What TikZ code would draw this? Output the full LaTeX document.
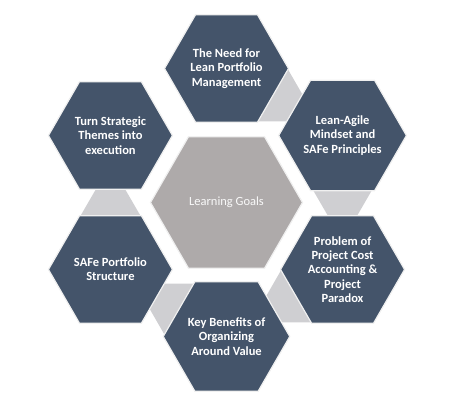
\documentclass[tikz,border=0pt]{standalone}
\usepackage{fontspec}
\setmainfont{Carlito}
\usetikzlibrary{shapes.geometric}

\definecolor{hexblue}{HTML}{44546A}
\definecolor{hexgray}{HTML}{AEAAAA}
\definecolor{linkgray}{HTML}{CFCFD2}

\tikzset{
  goal/.style={regular polygon, regular polygon sides=6, minimum size=124pt,
    inner sep=0pt, outer sep=0pt, fill=hexblue, draw=white!88!gray, line width=1.2pt,
    text=white, align=center, font=\bfseries\fontsize{12.5}{14.3}\selectfont},
  hub/.style={goal, minimum size=152pt, fill=hexgray, text=white!93!hexgray,
    font=\fontsize{12.5}{14.3}\selectfont},
  link/.style={fill=linkgray}
}

\begin{document}
\begin{tikzpicture}[x=1pt,y=1pt]
    % Page frame
    \useasboundingbox (0,0) rectangle (455,406);
    \coordinate (c) at (226.5,203.5);

    % Gray links between neighbouring hexagons
    \foreach \t in {90,30,-30,-90,-150} {
      \begin{scope}[shift={([shift={(\t-30:116)}]c)}, rotate=\t-210]
        \fill[link] (-30,-13.3) -- (30,-13.3) -- (14.6,13.3) -- (-14.6,13.3) -- cycle;
      \end{scope}
    }

    % Hexagons
    \node[hub] (hub) at (c) {Learning Goals};
    \node[goal] (need) at ([shift={(90:134)}]c) {The Need for\\Lean Portfolio\\Management};
    \node[goal] (mindset) at ([shift={(30:134)}]c) {Lean-Agile\\Mindset and\\SAFe Principles};
    \node[goal] (paradox) at ([shift={(-30:134)}]c) {Problem of\\Project Cost\\Accounting \&\\Project\\Paradox};
    \node[goal] (benefits) at ([shift={(-90:134)}]c) {Key Benefits of\\Organizing\\Around Value};
    \node[goal] (structure) at ([shift={(-150:134)}]c) {SAFe Portfolio\\Structure};
    \node[goal] (themes) at ([shift={(150:134)}]c) {Turn Strategic\\Themes into\\execution};
\end{tikzpicture}
\end{document}
